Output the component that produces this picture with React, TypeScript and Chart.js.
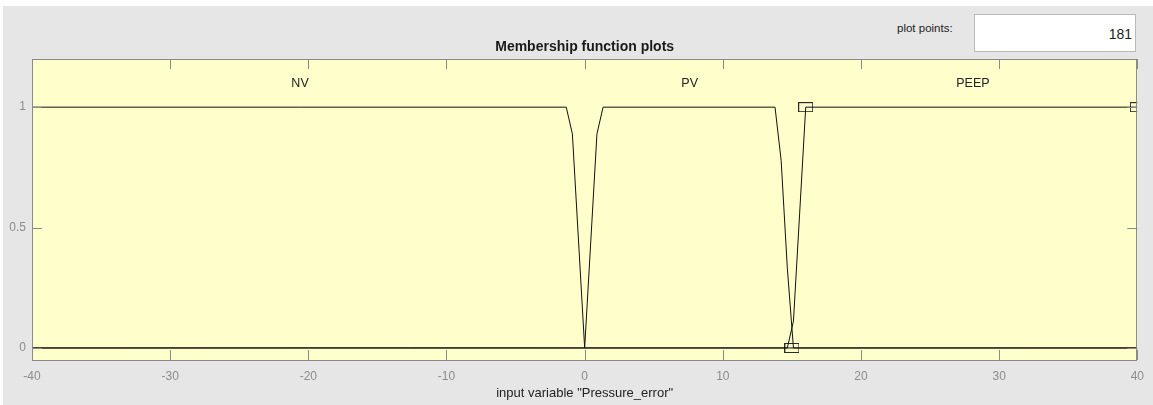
import React, { useEffect, useRef } from "react";
import { Chart, registerables } from "chart.js";

Chart.register(...registerables);

// ---- data ----
const xTicks = [-40, -30, -20, -10, 0, 10, 20, 30, 40];
const yTicks = [0, 0.5, 1];
const mfNames = ["NV", "PV", "PEEP"];

const nvX = [-40, -1.333, -0.889, 0, 40];
const nvY = [1, 1, 0.889, 0, 0];

const pvX = [-40, 0, 0.889, 1.333, 13.778, 14.222, 14.667, 15.111, 40];
const pvY = [0, 0, 0.889, 1, 1, 0.778, 0.333, 0, 0];

const peepX = [-40, 14.667, 15.111, 15.556, 16, 40];
const peepY = [0, 0, 0.111, 0.556, 1, 1];

const mfLabelX = [-20.6, 7.6, 28.1];
const mfLabelY = [1.1, 1.1, 1.1];

const markerX = [15, 16, 40];
const markerY = [0, 1, 1];

const plotPoints = 181;
const chartTitle = "Membership function plots";
const xTitle = 'input variable "Pressure_error"';

const FONT = "'Liberation Sans', Arial, Helvetica, sans-serif";

function pts(xs: number[], ys: number[]) {
  return xs.map((x, i) => ({ x, y: ys[i] }));
}

export default function App() {
  const ref = useRef<HTMLCanvasElement | null>(null);

  useEffect(() => {
    const canvas = ref.current;
    if (!canvas) return;

    const marker = document.createElement("canvas");
    marker.width = 15;
    marker.height = 10;
    const mctx = marker.getContext("2d");
    if (mctx) {
      mctx.strokeStyle = "#2a2a2a";
      mctx.lineWidth = 1;
      mctx.strokeRect(0.5, 0.5, 14, 9);
    }

    const framePlugin = {
      id: "matlabFrame",
      beforeDatasetsDraw(chart: any) {
        const { ctx, chartArea: a } = chart;
        ctx.save();
        ctx.fillStyle = "#ffffcc";
        ctx.fillRect(a.left, a.top, a.right - a.left, a.bottom - a.top);
        ctx.restore();
      },
      afterDraw(chart: any) {
        const { ctx, chartArea: a, scales } = chart;
        const xs = scales.x;
        const ys = scales.y;
        ctx.save();
        ctx.strokeStyle = "#8a8a8a";
        ctx.lineWidth = 1;
        ctx.strokeRect(Math.round(a.left) + 0.5, Math.round(a.top) + 0.5,
          Math.round(a.right - a.left) - 1, Math.round(a.bottom - a.top));
        const tl = 10;
        ctx.beginPath();
        xTicks.forEach((v) => {
          const px = Math.round(xs.getPixelForValue(v)) + 0.5;
          ctx.moveTo(px, a.bottom);
          ctx.lineTo(px, a.bottom - tl);
          ctx.moveTo(px, a.top);
          ctx.lineTo(px, a.top + tl);
        });
        yTicks.forEach((v) => {
          const py = Math.round(ys.getPixelForValue(v)) + 0.5;
          ctx.moveTo(a.left, py);
          ctx.lineTo(a.left + tl, py);
          ctx.moveTo(a.right, py);
          ctx.lineTo(a.right - tl, py);
        });
        ctx.stroke();

        // chart title centred over the axes
        ctx.fillStyle = "#1a1a1a";
        ctx.font = `bold 14px ${FONT}`;
        ctx.textAlign = "center";
        ctx.textBaseline = "middle";
        ctx.fillText(chartTitle, (a.left + a.right) / 2, a.top - 12);

        ctx.fillStyle = "#222";
        ctx.font = `12.5px ${FONT}`;
        mfNames.forEach((n, i) => {
          ctx.fillText(n, xs.getPixelForValue(mfLabelX[i]), ys.getPixelForValue(mfLabelY[i]));
        });
        ctx.restore();
      },
    };

    const lineDs = (label: string, xs: number[], ys: number[]) => ({
      label,
      data: pts(xs, ys),
      borderColor: "#111",
      borderWidth: 1,
      pointRadius: 0,
      fill: false,
      tension: 0,
    });

    const chart = new Chart(canvas, {
      type: "line",
      data: {
        datasets: [
          lineDs(mfNames[0], nvX, nvY),
          lineDs(mfNames[1], pvX, pvY),
          lineDs(mfNames[2], peepX, peepY),
          {
            label: "params",
            data: pts(markerX, markerY),
            showLine: false,
            pointStyle: marker as any,
            pointRadius: 7,
            borderColor: "#2a2a2a",
            clip: 0,
          } as any,
        ],
      },
      options: {
        animation: false,
        responsive: false,
        devicePixelRatio: 1,
        layout: { padding: { left: 0, right: 14, top: 59, bottom: 0 } },
        plugins: {
          legend: { display: false },
          tooltip: { enabled: false },
          title: { display: false },
        },
        scales: {
          x: {
            type: "linear",
            min: -40,
            max: 40,
            afterBuildTicks: (s: any) => {
              s.ticks = xTicks.map((v) => ({ value: v }));
            },
            afterFit: (s: any) => {
              s.height = 45;
            },
            grid: { display: false, drawTicks: false },
            border: { display: false },
            ticks: {
              color: "#8c8c8c",
              font: { family: FONT, size: 12 },
              padding: 9,
              maxRotation: 0,
              autoSkip: false,
              callback: (v: any) => String(v),
            },
            title: {
              display: true,
              text: xTitle,
              color: "#222",
              font: { family: FONT, size: 13 },
              padding: { top: 0, bottom: 4 },
            },
          },
          y: {
            min: -0.05,
            max: 1.2,
            afterBuildTicks: (s: any) => {
              s.ticks = yTicks.map((v) => ({ value: v }));
            },
            afterFit: (s: any) => {
              s.width = 32;
            },
            grid: { display: false, drawTicks: false },
            border: { display: false },
            ticks: {
              color: "#8c8c8c",
              font: { family: FONT, size: 12 },
              padding: 6,
              autoSkip: false,
              callback: (v: any) => String(v),
            },
          },
        },
      },
      plugins: [framePlugin],
    } as any);

    return () => chart.destroy();
  }, []);

  return (
    <div style={{ position: "fixed", left: 0, top: 0, width: 1153, height: 405, background: "#fff", overflow: "hidden", fontFamily: FONT }}>
      <div style={{ position: "absolute", left: 3, top: 6, width: 1150, height: 399, background: "#e6e6e6" }} />
      <div style={{ position: "absolute", left: 897, top: 20, fontSize: 11.5, color: "#222", lineHeight: "16px", whiteSpace: "nowrap" }}>
        plot points:
      </div>
      <div style={{ position: "absolute", left: 974, top: 14, width: 162, height: 38, boxSizing: "border-box", background: "#fff", border: "1px solid #b9b9b9", fontSize: 14, color: "#222", textAlign: "right", paddingRight: 3, lineHeight: "38px" }}>
        {plotPoints}
      </div>
      <canvas ref={ref} width={1153} height={405} style={{ position: "absolute", left: 0, top: 0, width: 1153, height: 405 }} />
    </div>
  );
}
